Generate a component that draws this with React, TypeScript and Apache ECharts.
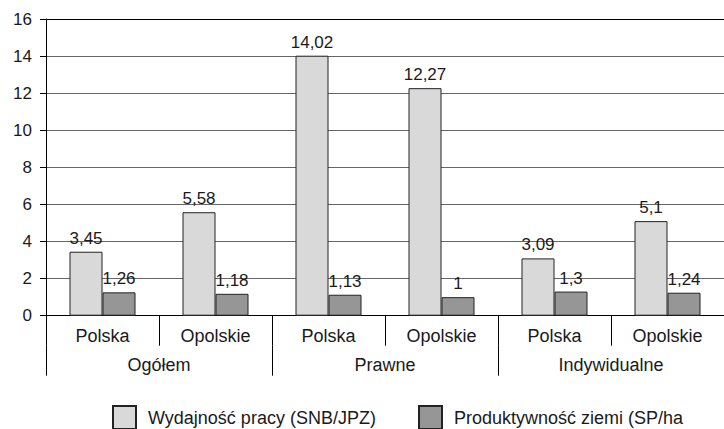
import React, { useEffect, useRef } from "react";
import * as echarts from "echarts";

const subCategories = ["Polska", "Opolskie", "Polska", "Opolskie", "Polska", "Opolskie"];
const groupCategories = ["Ogółem", "Prawne", "Indywidualne"];
const seriesNames = ["Wydajność pracy (SNB/JPZ)", "Produktywność ziemi (SP/ha"];
const laborProductivity = [3.45, 5.58, 14.02, 12.27, 3.09, 5.1];
const landProductivity = [1.26, 1.18, 1.13, 1, 1.3, 1.24];
const yTicks = [0, 2, 4, 6, 8, 10, 12, 14, 16];

const FONT = "'Liberation Sans', Arial, sans-serif";
const TXT = "#1a1a1a";

export default function App() {
  const ref = useRef<HTMLDivElement>(null);
  useEffect(() => {
    if (!ref.current) return;
    const chart = echarts.init(ref.current, undefined, { renderer: "svg" });
    const fmt = (p: any) => String(p.value).replace(".", ",");
    const gridColors = yTicks.map((_, i) => (i === yTicks.length - 1 ? "#000" : "#666"));
    const legendCommon = {
      top: 405,
      padding: 0,
      itemWidth: 23,
      itemHeight: 23,
      icon: "rect",
      textStyle: { fontSize: 18, color: TXT, fontFamily: FONT, padding: [0, 0, 0, 7] },
    };
    chart.setOption({
      animation: false,
      textStyle: { fontFamily: FONT },
      grid: { left: 46, top: 19, width: 689, bottom: 113.3 },
      xAxis: [
        {
          type: "category",
          data: subCategories,
          position: "bottom",
          axisLine: { show: true, lineStyle: { color: "#000", width: 1 } },
          axisTick: { show: true, length: 30, interval: 0, lineStyle: { color: "#000", width: 1 } },
          axisLabel: { interval: 0, margin: 11, fontSize: 18, color: TXT, fontFamily: FONT },
        },
        {
          type: "category",
          data: groupCategories,
          position: "bottom",
          offset: 30,
          axisLine: { show: false },
          axisTick: { show: true, length: 30, interval: 0, lineStyle: { color: "#000", width: 1 } },
          axisLabel: { interval: 0, margin: 10, fontSize: 18, color: TXT, fontFamily: FONT },
        },
      ],
      yAxis: {
        type: "value",
        min: 0,
        max: 16,
        interval: 2,
        axisLine: { show: true, lineStyle: { color: "#000", width: 1 } },
        axisTick: { show: true, length: 6, lineStyle: { color: "#000" } },
        axisLabel: { margin: 14, fontSize: 17, color: TXT, fontFamily: FONT },
        splitLine: { show: true, lineStyle: { color: gridColors, width: 1 } },
      },
      legend: [
        { ...legendCommon, data: [seriesNames[0]], left: 112 },
        { ...legendCommon, data: [seriesNames[1]], left: 418 },
      ],
      series: [
        {
          name: seriesNames[0],
          type: "bar",
          xAxisIndex: 0,
          data: laborProductivity,
          barWidth: 33,
          barGap: "0%",
          itemStyle: { color: "#d9d9d9", borderColor: "#222", borderWidth: 1 },
          label: { show: true, position: "top", distance: 5, formatter: fmt, fontSize: 17, color: TXT, fontFamily: FONT },
        },
        {
          name: seriesNames[1],
          type: "bar",
          xAxisIndex: 0,
          data: landProductivity,
          barWidth: 33,
          barGap: "0%",
          itemStyle: { color: "#969696", borderColor: "#222", borderWidth: 1 },
          label: { show: true, position: "top", distance: 5, formatter: fmt, fontSize: 17, color: TXT, fontFamily: FONT },
        },
      ],
    });
    return () => chart.dispose();
  }, []);
  return <div ref={ref} style={{ position: "absolute", left: 0, top: 0, width: 724, height: 429 }} />;
}
